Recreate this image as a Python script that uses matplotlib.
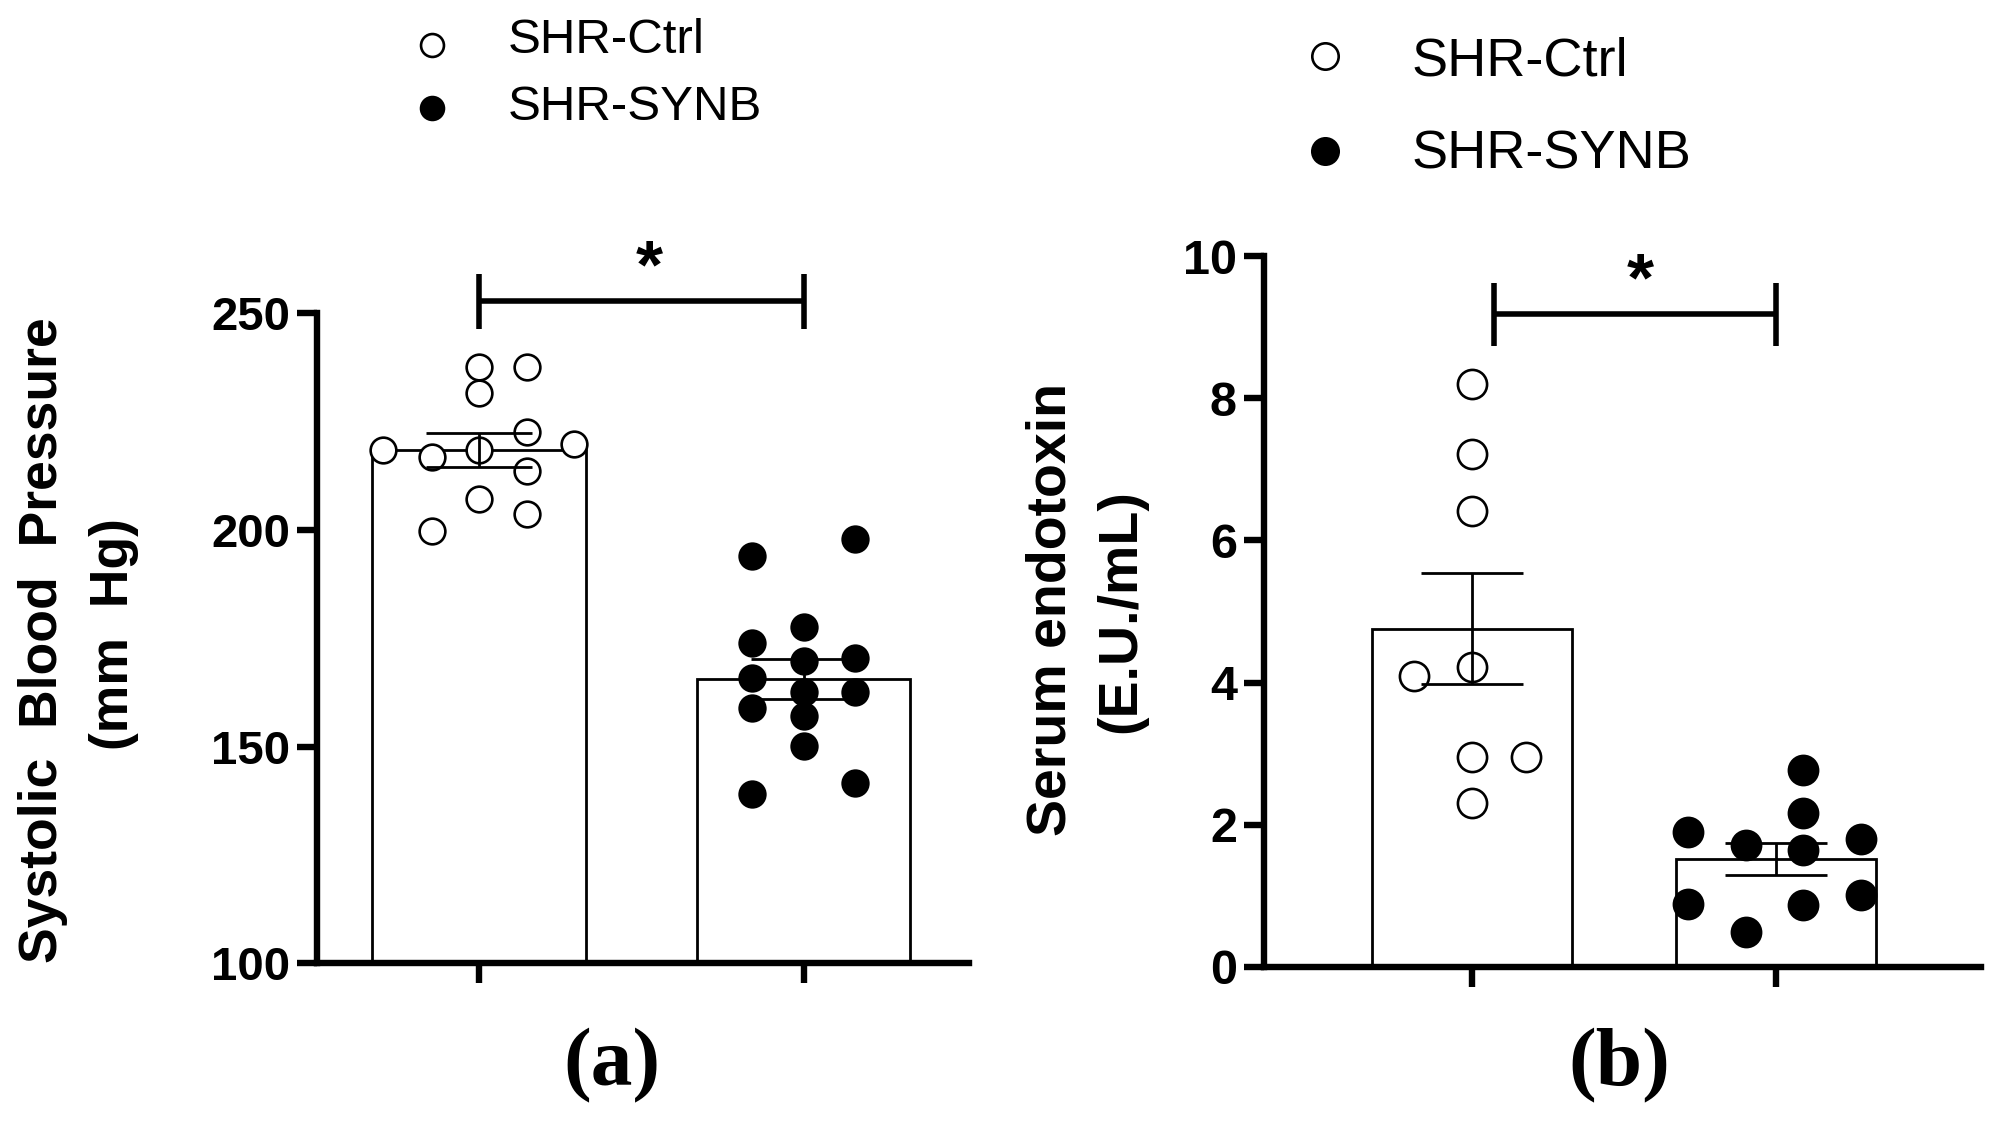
"""Two-panel bar + dot plot: SBP (a) and serum endotoxin (b), SHR-Ctrl vs SHR-SYNB."""
import matplotlib
matplotlib.use("Agg")
import matplotlib.pyplot as plt
from matplotlib.lines import Line2D

plt.rcParams["font.family"] = ["Liberation Sans", "DejaVu Sans"]

W, H = 2005, 1125

GROUPS = ["SHR-Ctrl", "SHR-SYNB"]

# ---- panel (a): systolic blood pressure (mm Hg)
sbp_mean = [218.4, 165.6]
sbp_sem = [3.85, 4.55]
sbp_ctrl_dx = [-0.296, -0.144, 0.0, 0.0, 0.0, 0.148, 0.148, 0.292, 0.148, 0.0, -0.144, 0.148]
sbp_ctrl = [218.4, 216.7, 218.4, 231.6, 237.6, 237.6, 222.5, 219.7, 213.6, 207.0, 199.8, 203.6]
sbp_synb_dx = [-0.158, -0.158, -0.158, -0.158, -0.158,
               0.0, 0.0, 0.0, 0.0, 0.0,
               0.160, 0.160, 0.160, 0.160]
sbp_synb = [193.9, 173.8, 165.9, 158.8, 139.1,
            177.5, 169.7, 162.6, 157.1, 150.2,
            197.8, 170.5, 162.6, 141.6]

# ---- panel (b): serum endotoxin (E.U./mL)
etx_mean = [4.76, 1.52]
etx_sem = [0.78, 0.23]
etx_ctrl_dx = [0.0, 0.0, 0.0, 0.0, -0.19, 0.0, 0.179, 0.0]
etx_ctrl = [8.20, 7.22, 6.42, 4.22, 4.09, 2.96, 2.96, 2.30]
etx_synb_dx = [-0.288, -0.099, 0.09, 0.09, 0.09, 0.28, -0.288, -0.099, 0.09, 0.28]
etx_synb = [1.90, 1.72, 2.77, 2.17, 1.64, 1.80, 0.89, 0.49, 0.87, 1.01]


def frac_box(left, right, top, bottom):
    return [left / W, 1 - bottom / H, (right - left) / W, (bottom - top) / H]


def draw_panel(ax, means, sems, ctrl_dx, ctrl, synb_dx, synb, width,
               capsize, ms, tick_fs):
    ax.bar([0, 1], means, width=width, color="white", edgecolor="black",
           linewidth=2.0, zorder=1)
    ax.plot([d for d in ctrl_dx], ctrl, "o", ls="none", ms=ms, mfc="white",
            mec="black", mew=1.9, zorder=3, clip_on=False)
    ax.plot([1 + d for d in synb_dx], synb, "o", ls="none", ms=ms, mfc="black",
            mec="black", mew=1.9, zorder=3, clip_on=False)
    ax.errorbar([0, 1], means, yerr=sems, fmt="none", ecolor="black",
                elinewidth=2.0, capsize=capsize, capthick=2.0, zorder=4)

    for s in ("top", "right"):
        ax.spines[s].set_visible(False)
    for s in ("left", "bottom"):
        ax.spines[s].set_linewidth(4.6)
    ax.set_xticks([0, 1])
    ax.set_xticklabels([])
    ax.tick_params(axis="both", length=14.5, width=4.6, direction="out",
                   pad=5, labelsize=tick_fs)
    for lab in ax.get_yticklabels():
        lab.set_fontweight("bold")


def sig_bar(ax, x0, x1, y, y_lo, y_hi, star_x, star_y):
    ax.plot([x0, x1], [y, y], color="black", lw=4.0, clip_on=False,
            solid_capstyle="butt")
    for x in (x0, x1):
        ax.plot([x, x], [y_lo, y_hi], color="black", lw=4.0, clip_on=False,
                solid_capstyle="butt")
    ax.text(star_x, star_y, "*", ha="center", va="baseline", fontsize=50,
            fontweight="bold", clip_on=False)


def legend(fig, mx, tx, rows, ms, fs):
    for (my, base), name, fc in zip(rows, GROUPS, ["white", "black"]):
        fig.add_artist(Line2D([mx / W], [1 - my / H], transform=fig.transFigure,
                              marker="o", ls="none", ms=ms, mfc=fc,
                              mec="black", mew=1.9))
        fig.text(tx / W, 1 - base / H, name, ha="left", va="baseline",
                 fontsize=fs)


fig = plt.figure(figsize=(W / 100, H / 100), dpi=100)

# panel (a)
ax_a = fig.add_axes(frac_box(317, 969, 313.0, 963.4))
draw_panel(ax_a, sbp_mean, sbp_sem, sbp_ctrl_dx, sbp_ctrl, sbp_synb_dx, sbp_synb,
           width=0.659, capsize=38, ms=18.5, tick_fs=34)
ax_a.set_xlim(-0.5, 1.51)
ax_a.set_ylim(100, 250)
ax_a.set_yticks([100, 150, 200, 250])
sig_bar(ax_a, 0, 1, 252.8, 246.2, 259.0, 0.523, 256.0)

fig.text(43 / W, 1 - 640 / H, "Systolic  Blood  Pressure",
         rotation=90, ha="center", va="center", fontsize=38.5, fontweight="bold")
fig.text(114 / W, 1 - 634 / H, "(mm  Hg)",
         rotation=90, ha="center", va="center", fontsize=38.5, fontweight="bold")
legend(fig, 432, 508, [(45, 53.3), (108, 120)], ms=16.5, fs=35.5)
fig.text(612 / W, 1 - 1066 / H, "(a)", ha="center", va="center", fontsize=60,
         fontweight="bold", family=["Liberation Serif", "DejaVu Serif"])

# panel (b)
ax_b = fig.add_axes(frac_box(1264, 1981, 256.1, 967))
draw_panel(ax_b, etx_mean, etx_sem, etx_ctrl_dx, etx_ctrl, etx_synb_dx, etx_synb,
           width=0.657, capsize=36.5, ms=21, tick_fs=35)
ax_b.set_xlim(-0.684, 1.674)
ax_b.set_ylim(0, 10)
ax_b.set_yticks([0, 2, 4, 6, 8, 10])
sig_bar(ax_b, 0.074, 1.0, 9.19, 8.74, 9.62, 0.552, 9.37)

fig.text(1051 / W, 1 - 609 / H, "Serum endotoxin",
         rotation=90, ha="center", va="center", fontsize=40, fontweight="bold")
fig.text(1121 / W, 1 - 611 / H, "(E.U./mL)",
         rotation=90, ha="center", va="center", fontsize=40, fontweight="bold")
legend(fig, 1325, 1411, [(56, 75.3), (150.6, 168.6)], ms=19, fs=39)
fig.text(1619 / W, 1 - 1066 / H, "(b)", ha="center", va="center", fontsize=60,
         fontweight="bold", family=["Liberation Serif", "DejaVu Serif"])

fig.savefig("out.png", dpi=100)
